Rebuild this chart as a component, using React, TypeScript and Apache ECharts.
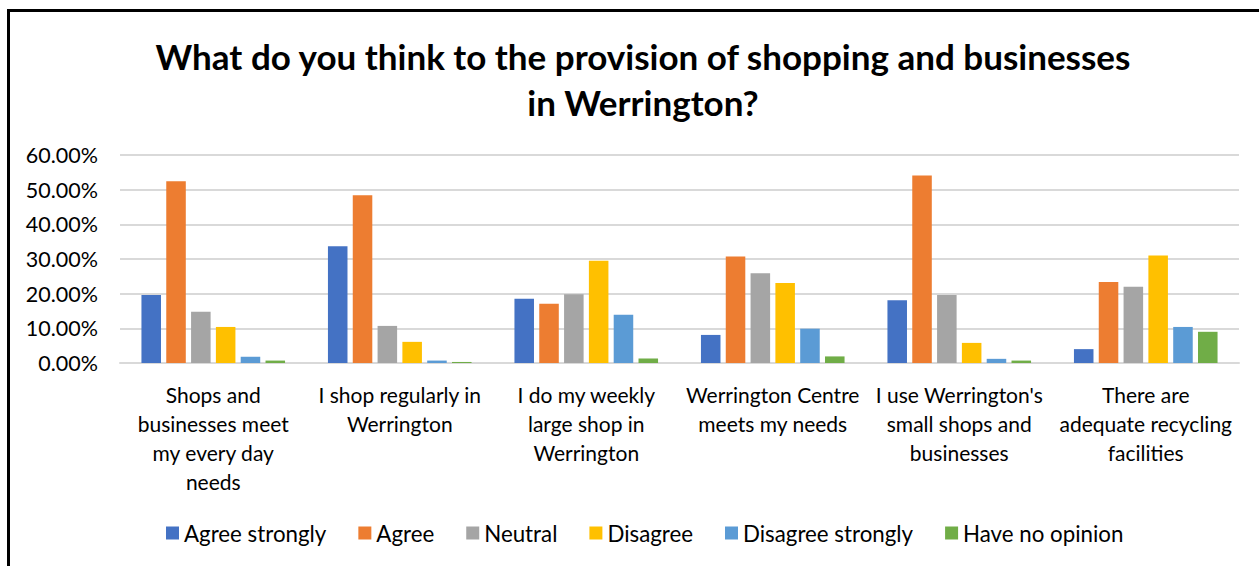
import React, { useEffect, useRef } from "react";
import * as echarts from "echarts";

const titleText = "What do you think to the provision of shopping and businesses\nin Werrington?";

const categories = [
  "Shops and\nbusinesses meet\nmy every day\nneeds",
  "I shop regularly in\nWerrington",
  "I do my weekly\nlarge shop in\nWerrington",
  "Werrington Centre\nmeets my needs",
  "I use Werrington's\nsmall shops and\nbusinesses",
  "There are\nadequate recycling\nfacilities",
];

const agreeStrongly = [0.196, 0.337, 0.185, 0.081, 0.181, 0.040];
const agree = [0.524, 0.484, 0.171, 0.307, 0.541, 0.234];
const neutral = [0.148, 0.107, 0.198, 0.259, 0.196, 0.220];
const disagree = [0.104, 0.061, 0.295, 0.231, 0.058, 0.310];
const disagreeStrongly = [0.018, 0.007, 0.139, 0.099, 0.012, 0.104];
const noOpinion = [0.007, 0.003, 0.013, 0.019, 0.007, 0.090];

const seriesNames = ["Agree strongly", "Agree", "Neutral", "Disagree", "Disagree strongly", "Have no opinion"];
const seriesData = [agreeStrongly, agree, neutral, disagree, disagreeStrongly, noOpinion];
const colors = ["#4472C4", "#ED7D31", "#A5A5A5", "#FFC000", "#5B9BD5", "#70AD47"];

const yTicks = { min: 0, max: 0.6, interval: 0.1 };

const FONT = "Lato";

export default function App() {
  const ref = useRef<HTMLDivElement>(null);
  useEffect(() => {
    if (!ref.current) return;
    const chart = echarts.init(ref.current, null, { renderer: "svg" });
    chart.setOption({
      animation: false,
      backgroundColor: "#ffffff",
      color: colors,
      title: {
        text: titleText,
        left: 638,
        textAlign: "center",
        top: 28,
        textStyle: {
          fontFamily: FONT,
          fontWeight: "bold",
          fontSize: 35,
          color: "#000000",
          lineHeight: 46,
        },
      },
      legend: {
        bottom: 17,
        left: 161,
        itemWidth: 13,
        itemHeight: 13,
        itemGap: 32,
        icon: "rect",
        data: seriesNames,
        textStyle: { fontFamily: FONT, fontSize: 22.3, color: "#000000", padding: [0, 0, 0, 0] },
      },
      grid: { left: 120, right: 20, top: 155, bottom: 203, containLabel: false },
      xAxis: {
        type: "category",
        data: categories,
        axisLine: { lineStyle: { color: "#d9d9d9", width: 2 } },
        axisTick: { show: false },
        axisLabel: {
          interval: 0,
          fontFamily: FONT,
          fontSize: 21,
          color: "#000000",
          lineHeight: 29,
          margin: 17,
        },
      },
      yAxis: {
        type: "value",
        min: yTicks.min,
        max: yTicks.max,
        interval: yTicks.interval,
        axisLine: { show: false },
        axisTick: { show: false },
        splitLine: { lineStyle: { color: "#d9d9d9", width: 2 } },
        axisLabel: {
          fontFamily: FONT,
          fontSize: 21.5,
          color: "#000000",
          margin: 22,
          formatter: (v: number) => (v * 100).toFixed(2) + "%",
        },
      },
      series: seriesNames.map((name, i) => ({
        name,
        type: "bar",
        data: seriesData[i],
        barGap: "27%",
        barCategoryGap: "23%",
        itemStyle: { color: colors[i] },
      })),
    });
    return () => chart.dispose();
  }, []);
  return (
    <div style={{ position: "fixed", left: 0, top: 0, width: 1259, height: 566, background: "#fff" }}>
      <div ref={ref} style={{ position: "absolute", left: 0, top: 0, width: 1259, height: 566 }} />
      <div
        style={{
          position: "absolute",
          left: 7,
          top: 9,
          width: 1400,
          height: 700,
          borderLeft: "3px solid #000",
          borderTop: "3px solid #000",
          boxSizing: "border-box",
          pointerEvents: "none",
        }}
      />
    </div>
  );
}
